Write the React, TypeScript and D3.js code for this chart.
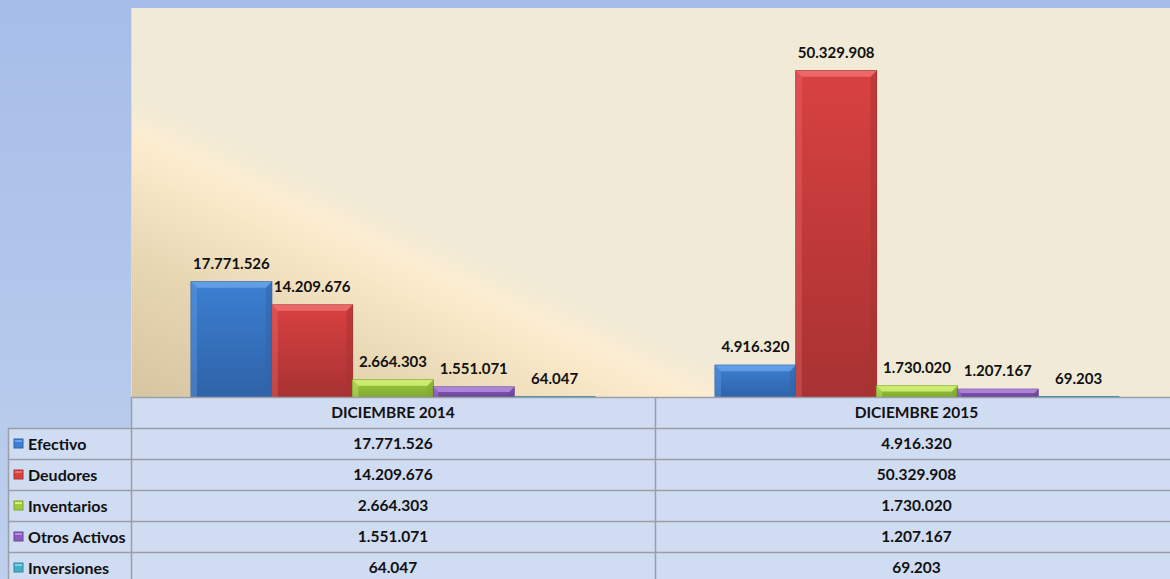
import React from "react";
import * as d3 from "d3";

const categories = ["DICIEMBRE 2014", "DICIEMBRE 2015"];
const seriesNames = ["Efectivo", "Deudores", "Inventarios", "Otros Activos", "Inversiones"];
const efectivo = [17771526, 4916320];
const deudores = [14209676, 50329908];
const inventarios = [2664303, 1730020];
const otrosActivos = [1551071, 1207167];
const inversiones = [64047, 69203];
const seriesValues = [efectivo, deudores, inventarios, otrosActivos, inversiones];
const yMax = 60000000;

const palette = [
  { main: "#3c7fd2", dark: "#2f63a8", light: "#6aa2ea" },
  { main: "#d94141", dark: "#a83232", light: "#f07070" },
  { main: "#9fcc3e", dark: "#7fa82e", light: "#d4f27a" },
  { main: "#8a5cbc", dark: "#6a4594", light: "#b48ce0" },
  { main: "#46aec8", dark: "#2f8aa2", light: "#7fd4e8" },
];

const W = 1170;
const H = 579;
const plotL = 131;
const plotT = 8;
const base = 397;
const rowH = 31;
const font = "Lato, 'Open Sans', sans-serif";

const locale = d3.formatLocale({ decimal: ",", thousands: ".", grouping: [3], currency: ["$", ""] });
const fmt = locale.format(",d");

export default function App() {
  const x0 = d3.scaleBand<string>().domain(categories).range([plotL, plotL + 2 * 524]);
  const x1 = d3.scaleBand<string>().domain(seriesNames).range([60, 464]);
  const y = d3.scaleLinear().domain([0, yMax]).range([base, plotT]);
  const colEdges = [plotL, plotL + 524, W];

  const bars: any[] = [];
  categories.forEach((c, ci) => {
    seriesNames.forEach((s, si) => {
      const v = seriesValues[si][ci];
      const bx = (x0(c) as number) + (x1(s) as number);
      const bw = x1.bandwidth();
      const by = y(v);
      const bh = base - by;
      bars.push({ c, s, si, v, bx, bw, by, bh });
    });
  });

  return (
    <svg width={W} height={H} style={{ position: "absolute", left: 0, top: 0 }}>
      <defs>
        <linearGradient id="outer" x1="0" y1="0" x2="0" y2="1">
          <stop offset="0" stopColor="#a6bde8" />
          <stop offset="1" stopColor="#bed0ee" />
        </linearGradient>
        <linearGradient id="wedge" gradientUnits="userSpaceOnUse" x1={131} y1={397} x2={254} y2={134.5}>
          <stop offset="0" stopColor="#d6c5a0" />
          <stop offset="0.45" stopColor="#e8d7b3" />
          <stop offset="0.78" stopColor="#fbebcc" />
          <stop offset="0.84" stopColor="#fbedd2" />
          <stop offset="0.95" stopColor="#f0ead6" />
          <stop offset="1" stopColor="#f0ead6" />
        </linearGradient>
        {palette.map((p, i) => (
          <linearGradient key={i} id={`bar${i}`} x1="0" y1="0" x2="0" y2="1">
            <stop offset="0" stopColor={p.main} />
            <stop offset="1" stopColor={p.dark} />
          </linearGradient>
        ))}
      </defs>
      <rect x={0} y={0} width={W} height={H} fill="url(#outer)" />
      <rect x={plotL} y={plotT} width={W - plotL} height={base - plotT} fill="url(#wedge)" />
      <line x1={plotL + 0.5} y1={plotT} x2={plotL + 0.5} y2={base} stroke="#d8dce6" strokeWidth={1} />

      {bars.map((b, i) => {
        const p = palette[b.si];
        const bev = Math.min(6, b.bh / 2);
        return (
          <g key={i}>
            <rect x={b.bx} y={b.by} width={b.bw} height={b.bh} fill={`url(#bar${b.si})`} stroke={p.dark} strokeWidth={1} />
            {b.bh > 2 && (
              <polygon
                points={`${b.bx},${b.by} ${b.bx + bev},${b.by + bev} ${b.bx + bev},${b.by + b.bh} ${b.bx},${b.by + b.bh}`}
                fill={p.light}
                opacity={0.35}
              />
            )}
            {b.bh > 2 && (
              <polygon
                points={`${b.bx + b.bw},${b.by} ${b.bx + b.bw},${b.by + b.bh} ${b.bx + b.bw - bev},${b.by + b.bh} ${b.bx + b.bw - bev},${b.by + bev}`}
                fill={p.dark}
                opacity={0.5}
              />
            )}
            {b.bh > 2 && (
              <polygon
                points={`${b.bx},${b.by} ${b.bx + b.bw},${b.by} ${b.bx + b.bw - bev},${b.by + bev} ${b.bx + bev},${b.by + bev}`}
                fill={p.light}
                opacity={0.85}
              />
            )}
            <text
              x={b.bx + b.bw / 2}
              y={b.by - 13}
              textAnchor="middle"
              fontFamily={font}
              fontWeight="bold"
              fontSize={15}
              fill="#111"
            >
              {fmt(b.v)}
            </text>
          </g>
        );
      })}

      {/* table */}
      <rect x={plotL} y={base} width={W - plotL} height={H - base} fill="#d0dcf1" />
      <rect x={8} y={base + rowH} width={plotL - 8} height={H - base - rowH} fill="#d0dcf1" />
      <line x1={plotL} y1={base + 0.5} x2={W} y2={base + 0.5} stroke="#9aa0aa" strokeWidth={1.5} />
      {d3.range(1, 6).map((r) => (
        <line key={r} x1={8} y1={base + r * rowH + 0.5} x2={W} y2={base + r * rowH + 0.5} stroke="#9a9ea6" strokeWidth={1.5} />
      ))}
      {colEdges.slice(0, 2).map((cx, i) => (
        <line key={i} x1={cx + 0.5} y1={base} x2={cx + 0.5} y2={H} stroke="#9a9ea6" strokeWidth={1.5} />
      ))}
      <line x1={8.5} y1={base + rowH} x2={8.5} y2={H} stroke="#9a9ea6" strokeWidth={1.5} />

      {categories.map((c, ci) => {
        const cx = (colEdges[ci] + colEdges[ci + 1]) / 2 + (ci === 1 ? 4 : 0);
        return (
          <g key={c}>
            <text x={cx} y={base + rowH / 2 + 5.5} textAnchor="middle" fontFamily={font} fontWeight="bold" fontSize={15.5} fill="#111">
              {c}
            </text>
            {seriesNames.map((s, si) => (
              <text key={s} x={cx} y={base + (si + 1) * rowH + rowH / 2 + 5.5} textAnchor="middle" fontFamily={font} fontWeight="bold" fontSize={15.5} fill="#111">
                {fmt(seriesValues[si][ci])}
              </text>
            ))}
          </g>
        );
      })}

      {seriesNames.map((s, si) => {
        const cy = base + (si + 1) * rowH + rowH / 2;
        const p = palette[si];
        return (
          <g key={s}>
            <rect x={14} y={cy - 4.5} width={9} height={9} fill={p.main} stroke={p.dark} strokeWidth={1} />
            <rect x={15} y={cy - 3.5} width={7} height={2} fill={p.light} />
            <text x={28} y={cy + 6} fontFamily={font} fontWeight="bold" fontSize={16} fill="#111">
              {s}
            </text>
          </g>
        );
      })}
    </svg>
  );
}
